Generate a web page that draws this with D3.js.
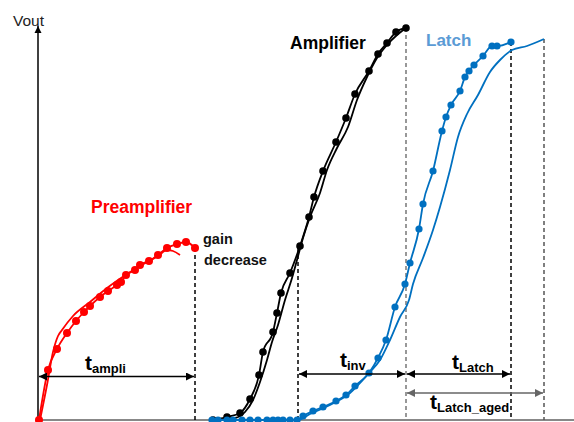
<!DOCTYPE html>
<html>
<head>
<meta charset="utf-8">
<script src="https://cdn.jsdelivr.net/npm/d3@7/dist/d3.min.js"></script>
<style>
  html, body { margin: 0; padding: 0; background: #fff; }
  svg { display: block; }
  text { font-family: "Liberation Sans", Arial, sans-serif; }
</style>
</head>
<body>
<svg id="chart" width="574" height="422"></svg>
<script>
// ---- Data (time in arbitrary units, Vout in arbitrary units) ----
const preampMeasured = [[1,0],[10,50],[19,71],[29,87],[38,99],[46,108],[52,114],[62,123],[70,129],[79,135],[83,138],[88,145],[97,150],[102,155],[111,159],[120,165],[129,172],[139,176],[148,178],[157,172]];
const preampFresh = [[2,0],[9,35],[15,68],[20,84],[24,90],[35,104],[52,118],[69,132],[89,146],[102,154],[120,164],[129,170],[135,169],[142,165]];
const ampMeasured = [[175,0],[189,3],[202,7],[212,21],[221,45],[225,68],[235,88],[239,107],[243,127],[252,147],[262,174],[271,203],[276,223],[285,249],[298,278],[308,302],[317,326],[331,349],[340,366],[349,377],[358,388],[368,392]];
const ampFresh = [[177,0],[197,2],[207,8],[215,20],[222,38],[229,60],[234,78],[240,95],[247,120],[254,142],[259,160],[265,182],[272,203],[282,227],[289,250],[299,272],[310,293],[319,320],[329,343],[339,362],[349,375],[359,385],[368,392]];
const latchMeasured = [[174,0],[180,0],[189,0],[195,0],[204,0],[212,0],[220,0],[229,0],[235,0],[240,0],[245,0],[252,0],[259,0],[265,4],[275,9],[285,13],[298,19],[308,25],[317,34],[331,47],[340,62],[348,80],[357,113],[367,136],[372,157],[381,191],[385,216],[395,249],[404,289],[408,303],[413,315],[422,329],[427,343],[431,349],[436,355],[445,364],[454,374],[459,374],[473,378]];
const latchAged = [[174,0],[260,0],[272,6],[292,15],[312,27],[331,47],[342,60],[352,80],[362,103],[371,120],[375,136],[385,162],[395,190],[402,213],[412,250],[420,283],[429,306],[440,325],[452,348],[462,360],[474,370],[489,374],[506,381]];

// dashed markers: [time, top Vout, colour]
const guides = [[157,172,"#000"],[260,172,"#000"],[368,392,"#777"],[473,378,"#000"],[506,381,"#555"]];
// timing arrows: [t0, t1, level, colour, main, sub]
const spans = [[0,157,43.5,"#000","t","ampli"],[260,368,46,"#000","t","inv"],[368,473,46,"#000","t","Latch"],[368,506,27,"#666","t","Latch_aged"]];
const seriesLabels = ["Preamplifier","Amplifier","Latch"];
const note = ["gain","decrease"];

// ---- Scales ----
const x = d3.scaleLinear().domain([0, 536]).range([38, 574]);
const y = d3.scaleLinear().domain([0, 394]).range([420, 26]);
const svg = d3.select("#chart");

const defs = svg.append("defs");
function arrowMarker(id, color, w, h) {
  defs.append("marker").attr("id", id)
    .attr("viewBox", "0 0 10 10").attr("refX", 10).attr("refY", 5)
    .attr("markerUnits", "userSpaceOnUse")
    .attr("markerWidth", w).attr("markerHeight", h)
    .attr("orient", "auto-start-reverse")
    .append("path").attr("d", "M0,0 L10,5 L0,10 Z").attr("fill", color);
}
arrowMarker("arrK", "#000", 9, 8);
arrowMarker("arrG", "#666", 9, 8);
arrowMarker("arrAxis", "#000", 7, 8);

// ---- Axes ----
svg.append("line").attr("x1", x(0)).attr("x2", x(536)).attr("y1", y(0)).attr("y2", y(0))
  .attr("stroke", "#888").attr("stroke-width", 2);
svg.append("line").attr("x1", x(0)).attr("x2", x(0)).attr("y1", y(0)).attr("y2", y(394))
  .attr("stroke", "#000").attr("stroke-width", 1.5).attr("marker-end", "url(#arrAxis)");
svg.append("text").attr("x", 13).attr("y", 26).attr("font-size", 15.5).attr("fill", "#222")
  .text("Vout");

// ---- Guides ----
svg.selectAll("line.guide").data(guides).join("line").attr("class", "guide")
  .attr("x1", d => x(d[0])).attr("x2", d => x(d[0]))
  .attr("y1", d => y(d[1])).attr("y2", y(0))
  .attr("stroke", d => d[2]).attr("stroke-width", 1.5).attr("stroke-dasharray", "4,3");

// ---- Curves ----
const line = d3.line().x(d => x(d[0])).y(d => y(d[1])).curve(d3.curveMonotoneX);
function curve(data, color, dots, r) {
  svg.append("path").datum(data).attr("d", line).attr("fill", "none")
    .attr("stroke", color).attr("stroke-width", 1.8);
  if (dots) {
    svg.append("g").selectAll("circle").data(data).join("circle")
      .attr("cx", d => x(d[0])).attr("cy", d => y(d[1])).attr("r", r).attr("fill", color);
  }
}
curve(preampFresh, "#ff0000", false);
curve(preampMeasured, "#ff0000", true, 4);
curve(ampFresh, "#000", false);
curve(ampMeasured, "#000", true, 3.8);
curve(latchAged, "#0070c0", false);
curve(latchMeasured, "#0070c0", true, 3.6);

// ---- Timing arrows ----
spans.forEach(s => {
  svg.append("line").attr("x1", x(s[0]) + 1).attr("x2", x(s[1]) - 1)
    .attr("y1", y(s[2])).attr("y2", y(s[2]))
    .attr("stroke", s[3]).attr("stroke-width", 1.5)
    .attr("marker-start", s[3] === "#000" ? "url(#arrK)" : "url(#arrG)")
    .attr("marker-end", s[3] === "#000" ? "url(#arrK)" : "url(#arrG)");
});
const spanLabelPos = [[85,370],[340,367],[452,369],[430,409]];
spans.forEach((s, i) => {
  const t = svg.append("text").attr("x", spanLabelPos[i][0]).attr("y", spanLabelPos[i][1])
    .attr("font-weight", "bold").attr("fill", "#000");
  t.append("tspan").attr("font-size", 21).text(s[4]);
  t.append("tspan").attr("font-size", 13).attr("dy", 3).text(s[5]);
});

// ---- Labels ----
svg.append("text").attr("x", 91).attr("y", 213).attr("font-size", 17.5).attr("font-weight", "bold")
  .attr("fill", "#ff0000").text(seriesLabels[0]);
svg.append("text").attr("x", 290).attr("y", 49).attr("font-size", 17.5).attr("font-weight", "bold")
  .attr("fill", "#000").text(seriesLabels[1]);
svg.append("text").attr("x", 426).attr("y", 46).attr("font-size", 17).attr("font-weight", "bold")
  .attr("fill", "#5b9bd5").text(seriesLabels[2]);
svg.append("text").attr("x", 203).attr("y", 244).attr("font-size", 14.5).attr("font-weight", "bold")
  .attr("fill", "#111").text(note[0]);
svg.append("text").attr("x", 204).attr("y", 265).attr("font-size", 14.5).attr("font-weight", "bold")
  .attr("fill", "#111").text(note[1]);
</script>
</body>
</html>
